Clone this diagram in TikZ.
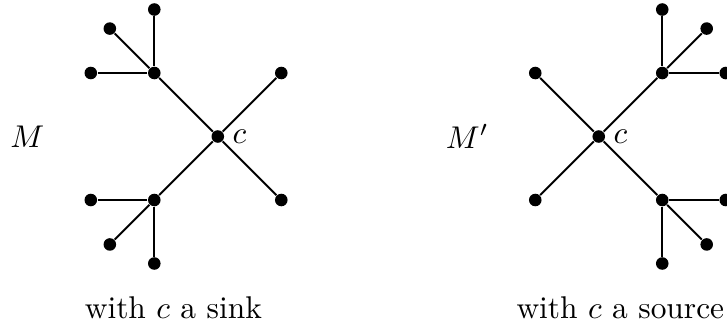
\documentclass[tikz,border=0pt]{standalone}
\usepackage{amsmath}
\usetikzlibrary{positioning}

\begin{document}
\begin{tikzpicture}[
    x=0.71cm, y=0.71cm,
    vtx/.style={circle, fill=black, inner sep=0pt, minimum size=4pt},
    edge/.style={line width=0.6pt},
    clabel/.style={label={[label distance=-1pt]right:$c$}},
    capt/.style={anchor=base}
]
\useasboundingbox (-3.43,-3.0) rectangle (8.02,2.15);

% --- M: c a sink ---
\node[vtx, clabel] (c) at (0,0) {};
\node[vtx] (up) at (-1,1) {};
\node[vtx] (lo) at (-1,-1) {};
\node[vtx] (ne) at (1,1) {};
\node[vtx] (se) at (1,-1) {};
\node[vtx] (upW) at (-2,1) {};
\node[vtx] (upN) at (-1,2) {};
\node[vtx] (upD) at (-1.7,1.7) {};
\node[vtx] (loW) at (-2,-1) {};
\node[vtx] (loS) at (-1,-2) {};
\node[vtx] (loD) at (-1.7,-1.7) {};
\node (M) at (-3.0,0) {$M$};
\node[capt] (capM) at (-0.7,-2.86) {with $c$ a sink};

% --- M': c a source ---
\node[vtx, clabel] (c2) at (6,0) {};
\node[vtx] (up2) at (7,1) {};
\node[vtx] (lo2) at (7,-1) {};
\node[vtx] (nw2) at (5,1) {};
\node[vtx] (sw2) at (5,-1) {};
\node[vtx] (upE2) at (8,1) {};
\node[vtx] (upN2) at (7,2) {};
\node[vtx] (upD2) at (7.7,1.7) {};
\node[vtx] (loE2) at (8,-1) {};
\node[vtx] (loS2) at (7,-2) {};
\node[vtx] (loD2) at (7.7,-1.7) {};
\node (M2) at (3.93,0) {$M'$};
\node[capt] (capM2) at (6.34,-2.86) {with $c$ a source};

% edges
\draw[edge] (c) -- (up);
\draw[edge] (c) -- (lo);
\draw[edge] (c) -- (ne);
\draw[edge] (c) -- (se);
\draw[edge] (up) -- (upW);
\draw[edge] (up) -- (upN);
\draw[edge] (up) -- (upD);
\draw[edge] (lo) -- (loW);
\draw[edge] (lo) -- (loS);
\draw[edge] (lo) -- (loD);

\draw[edge] (c2) -- (up2);
\draw[edge] (c2) -- (lo2);
\draw[edge] (c2) -- (nw2);
\draw[edge] (c2) -- (sw2);
\draw[edge] (up2) -- (upE2);
\draw[edge] (up2) -- (upN2);
\draw[edge] (up2) -- (upD2);
\draw[edge] (lo2) -- (loE2);
\draw[edge] (lo2) -- (loS2);
\draw[edge] (lo2) -- (loD2);

\end{tikzpicture}
\end{document}
